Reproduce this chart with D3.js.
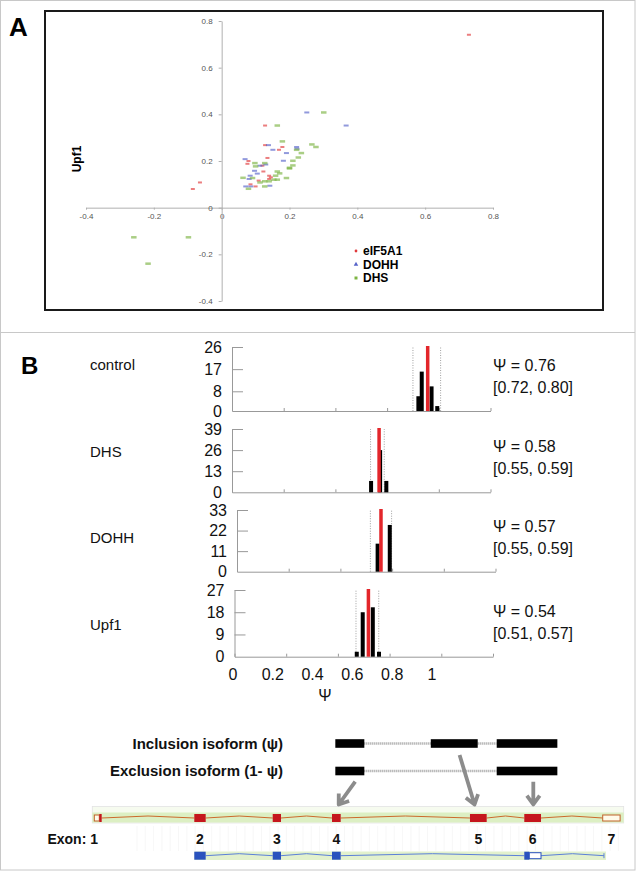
<!DOCTYPE html>
<html>
<head>
<meta charset="utf-8">
<script src="https://cdn.jsdelivr.net/npm/d3@7/dist/d3.min.js"></script>
<style>
  body { margin: 0; background: #fff; }
  svg { display: block; }
</style>
</head>
<body>
<div id="chart"></div>
<script>
// ---- Panel A: scatter (x, y) per knock-down ----
const eif5a1 = [
  [0.128, 0.352], [0.729, 0.741], [0.128, 0.268], [0.169, 0.248], [0.179, 0.26],
  [0.079, 0.2], [0.076, 0.188], [0.135, 0.213], [0.14, 0.137], [0.14, 0.123],
  [0.123, 0.155], [0.12, 0.18], [0.109, 0.116], [0.1, 0.091], [0.145, 0.13],
  [0.085, 0.1], [-0.085, 0.08], [-0.064, 0.108]
];
const dohh = [
  [0.251, 0.408], [0.367, 0.352], [0.138, 0.268], [0.151, 0.248], [0.221, 0.26],
  [0.191, 0.234], [0.069, 0.208], [0.182, 0.201], [0.113, 0.18], [0.097, 0.158],
  [0.105, 0.146], [0.084, 0.137], [0.081, 0.123], [0.071, 0.091], [0.086, 0.091],
  [0.142, 0.094], [0.13, 0.185], [0.222, 0.252]
];
const dhs = [
  [0.164, 0.352], [0.301, 0.408], [0.179, 0.284], [0.221, 0.248], [0.235, 0.234],
  [0.266, 0.271], [0.278, 0.26], [0.226, 0.215], [0.21, 0.201], [0.2, 0.171],
  [0.21, 0.181], [0.164, 0.155], [0.171, 0.147], [0.159, 0.137], [0.191, 0.127],
  [0.154, 0.12], [0.164, 0.12], [0.063, 0.128], [0.091, 0.127], [0.1, 0.177],
  [0.098, 0.191], [0.127, 0.191], [0.079, 0.081], [0.127, 0.091], [0.113, 0.108],
  [0.127, 0.113], [0.14, 0.113], [0.2, 0.168], [-0.259, -0.127], [-0.098, -0.127],
  [-0.217, -0.24]
];
const scatterTicks = [-0.4, -0.2, 0, 0.2, 0.4, 0.6, 0.8];
const legendNames = ['eIF5A1', 'DOHH', 'DHS'];

// ---- Panel B: psi histograms ----
const conditions = ['control', 'DHS', 'DOHH', 'Upf1'];
const countTicks = [[0, 8, 17, 26], [0, 13, 26, 39], [0, 11, 22, 33], [0, 9, 18, 27]];
const histBins = [
  [[0.721, 6], [0.734, 16], [0.772, 10], [0.794, 2]],
  [[0.538, 7], [0.573, 26], [0.597, 7]],
  [[0.544, 15], [0.591, 25]],
  [[0.473, 2], [0.496, 18], [0.535, 20], [0.559, 2]]
];
const psiMark = [0.757, 0.569, 0.557, 0.518];
const ciMark = [[0.70, 0.807], [0.536, 0.589], [0.516, 0.598], [0.47, 0.558]];
const psiText = ['0.76', '0.58', '0.57', '0.54'];
const ciText = ['[0.72, 0.80]', '[0.55, 0.59]', '[0.55, 0.59]', '[0.51, 0.57]'];
const psiTicks = [0, 0.2, 0.4, 0.6, 0.8, 1];

// ---- gene model (genomic units 0..1000) ----
const isoformNames = ['Inclusion isoform (\u03c8)', 'Exclusion isoform (1- \u03c8)'];
const isoforms = [
  [[457, 512], [638, 727], [763, 878]],
  [[457, 512], [763, 878]]
];
const redExons = [[0, 9.5, 'h'], [9.5, 14, 'f'], [189.6, 211.2, 'f'], [338.3, 354, 'f'],
  [450.7, 467.2, 'f'], [712.3, 744, 'f'], [815.3, 847, 'f'], [964, 997, 'h']];
const blueExons = [[189.6, 211.2, 'f'], [338.3, 354, 'f'], [450.7, 467.2, 'f'],
  [815.3, 824.8, 'f'], [824.8, 847, 'h']];
const blueEnd = 966.4;
const exonNames = ['1', '2', '3', '4', '5', '6', '7'];
const exonCenters = [7, 200.4, 346.2, 459, 728.2, 831.2, 980.5];
const arrows = [[494.7, 463.4, 1], [692.6, 721, 0], [832.4, 832.4, 1]];

const SANS = 'Liberation Sans, Arial, Helvetica, sans-serif';
const svg = d3.select('#chart').append('svg').attr('width', 636).attr('height', 871);

// frame
svg.append('rect').attr('x', 0.5).attr('y', 0.5).attr('width', 634.5).attr('height', 869.5)
  .attr('fill', 'none').attr('stroke', '#c8c8c8');
svg.append('line').attr('x1', 0).attr('x2', 635).attr('y1', 332.5).attr('y2', 332.5)
  .attr('stroke', '#c8c8c8');

// ================= Panel A =================
svg.append('rect').attr('x', 45).attr('y', 11).attr('width', 558).attr('height', 299)
  .attr('fill', 'none').attr('stroke', '#1a1a1a').attr('stroke-width', 2);
svg.append('text').attr('x', 9).attr('y', 36).text('A')
  .attr('font-family', SANS).attr('font-weight', 'bold').attr('font-size', '26px');

const sx = d3.scaleLinear().domain([-0.4, 0.8]).range([86, 493]);
const sy = d3.scaleLinear().domain([-0.4, 0.8]).range([301, 21]);
const fmt = d => d === 0 ? '0' : d.toFixed(1);

const ax = svg.append('g').attr('transform', `translate(0,${sy(0)})`)
  .call(d3.axisBottom(sx).tickValues(scatterTicks).tickSize(2).tickSizeOuter(0).tickPadding(4).tickFormat(fmt));
const ay = svg.append('g').attr('transform', `translate(${sx(0)},0)`)
  .call(d3.axisLeft(sy).tickValues(scatterTicks).tickSize(3).tickSizeOuter(0).tickPadding(6).tickFormat(fmt));
[ax, ay].forEach(a => {
  a.select('.domain').attr('stroke', '#b0b0b0');
  a.selectAll('line').attr('stroke', '#b0b0b0');
  a.selectAll('text').attr('fill', '#555').attr('font-size', '8px').attr('font-family', SANS);
});

svg.append('text')
  .attr('transform', 'translate(81,159) rotate(-90)')
  .attr('text-anchor', 'middle')
  .attr('font-family', SANS).attr('font-weight', 'bold').attr('font-size', '12px')
  .text('Upf1');

const series = [
  { data: eif5a1, color: '#e0393b', w: 4, h: 2 },
  { data: dohh, color: '#5663c9', w: 5, h: 2 },
  { data: dhs, color: '#7db443', w: 5.5, h: 2.5 }
];
series.forEach(s => {
  svg.append('g').selectAll('rect').data(s.data).enter().append('rect')
    .attr('x', d => sx(d[0]) - s.w / 2)
    .attr('y', d => sy(d[1]) - s.h / 2)
    .attr('width', s.w).attr('height', s.h)
    .attr('fill', s.color).attr('opacity', 0.65);
});

// legend
const legend = svg.append('g').attr('transform', 'translate(356,251)');
const legendSymbols = [d3.symbolCircle, d3.symbolTriangle, d3.symbolSquare];
legendNames.forEach((name, i) => {
  legend.append('path')
    .attr('transform', `translate(0,${i * 13.5})`)
    .attr('d', d3.symbol().type(legendSymbols[i]).size(i === 0 ? 6 : 9)())
    .attr('fill', series[i].color);
  legend.append('text').attr('x', 7).attr('y', i * 13.5).attr('dy', '0.35em')
    .attr('font-family', SANS).attr('font-weight', 'bold').attr('font-size', '12px')
    .text(name);
});

// ================= Panel B =================
svg.append('text').attr('x', 21).attr('y', 374).text('B')
  .attr('font-family', SANS).attr('font-weight', 'bold').attr('font-size', '24px');

const histLayout = [
  { x0: 232, top: 347, base: 411, labelY: 365 },
  { x0: 232, top: 429, base: 492.3, labelY: 452 },
  { x0: 237, top: 510, base: 571.7, labelY: 538 },
  { x0: 234.5, top: 590, base: 656.7, labelY: 625 }
];

conditions.forEach((cond, i) => {
  const L = histLayout[i];
  const x = d3.scaleLinear().domain([0, 1]).range([L.x0, L.x0 + 258.5]);
  const y = d3.scaleLinear().domain([0, d3.max(countTicks[i])]).range([L.base, L.top]);
  const g = svg.append('g');

  g.append('text').attr('x', 90).attr('y', L.labelY).attr('dy', '0.35em')
    .attr('font-family', SANS).attr('font-size', '15px').attr('fill', '#111').text(cond);

  const yAxis = g.append('g').attr('transform', `translate(${L.x0},0)`)
    .call(d3.axisLeft(y).tickValues(countTicks[i]).tickSize(-11).tickSizeOuter(0).tickPadding(10));
  const xAxis = g.append('g').attr('transform', `translate(0,${L.base})`)
    .call(d3.axisBottom(x).tickValues(psiTicks).tickSize(-3).tickSizeOuter(0).tickFormat(''));
  [yAxis, xAxis].forEach(a => {
    a.select('.domain').attr('stroke', '#999');
    a.selectAll('line').attr('stroke', '#999');
  });
  yAxis.selectAll('.tick').filter(d => d === 0).select('line').remove();
  yAxis.selectAll('text').attr('fill', '#111').attr('font-size', '16px').attr('font-family', SANS);

  // credible interval
  g.selectAll('.ci').data(ciMark[i]).enter().append('line')
    .attr('x1', d => x(d)).attr('x2', d => x(d))
    .attr('y1', L.base).attr('y2', L.top)
    .attr('stroke', '#888').attr('stroke-width', 0.8).attr('stroke-dasharray', '1,1.5');

  g.selectAll('.bar').data(histBins[i]).enter().append('rect')
    .attr('x', d => x(d[0]) - 2).attr('width', 4)
    .attr('y', d => y(d[1])).attr('height', d => L.base - y(d[1]))
    .attr('fill', '#000');

  g.append('line')
    .attr('x1', x(psiMark[i])).attr('x2', x(psiMark[i]))
    .attr('y1', L.base).attr('y2', L.top - 1)
    .attr('stroke', '#e3262b').attr('stroke-width', 3.5);

  g.append('text').attr('x', 493).attr('y', L.base - 40)
    .attr('font-family', SANS).attr('font-size', '16px').attr('fill', '#111')
    .text('\u03a8 = ' + psiText[i]);
  g.append('text').attr('x', 493).attr('y', L.base - 18)
    .attr('font-family', SANS).attr('font-size', '16px').attr('fill', '#111')
    .text(ciText[i]);
});

// shared psi tick labels under the last panel
const labelScale = d3.scaleLinear().domain([0, 1]).range([232.5, 431.5]);
const lab = svg.append('g').attr('transform', 'translate(0,669)')
  .call(d3.axisBottom(labelScale).tickValues(psiTicks).tickSize(0).tickPadding(0)
    .tickFormat(d => d === 0 || d === 1 ? String(d) : d.toFixed(1)));
lab.select('.domain').remove();
lab.selectAll('text').attr('fill', '#111').attr('font-size', '16px').attr('font-family', SANS);
svg.append('text').attr('x', 325).attr('y', 701).attr('text-anchor', 'middle')
  .attr('font-family', SANS).attr('font-size', '16px').attr('fill', '#111').text('\u03a8');

// ================= gene model =================
const gx = d3.scaleLinear().domain([0, 1000]).range([94.3, 621.7]);
const rowY = [743.5, 771];
const gm = svg.append('g');

isoformNames.forEach((name, r) => {
  gm.append('text').attr('x', 283).attr('y', rowY[r]).attr('dy', '0.36em')
    .attr('text-anchor', 'end').attr('font-family', SANS).attr('font-weight', 'bold')
    .attr('font-size', '15px').attr('fill', '#111').text(name);
  const ex = isoforms[r];
  gm.append('line')
    .attr('x1', gx(ex[0][1])).attr('x2', gx(ex[ex.length - 1][0]))
    .attr('y1', rowY[r]).attr('y2', rowY[r])
    .attr('stroke', '#9a9a9a').attr('stroke-width', 2.5).attr('stroke-dasharray', '1,1');
  gm.selectAll(null).data(ex).enter().append('rect')
    .attr('x', d => gx(d[0])).attr('width', d => gx(d[1]) - gx(d[0]))
    .attr('y', rowY[r] - 4.3).attr('height', 8.6).attr('fill', '#000');
});

// track backgrounds
const trackTop = 806.5, redY = 818, blueY = 855.7;
gm.append('rect').attr('x', gx(0) - 2).attr('y', trackTop).attr('width', gx(1000) - gx(0) + 4).attr('height', 16.5)
  .attr('fill', '#f6fbef').attr('stroke', '#e3e3e3').attr('stroke-width', 0.8);
gm.append('rect').attr('x', gx(0) - 2).attr('y', 812.5).attr('width', gx(1000) - gx(0) + 4).attr('height', 10)
  .attr('fill', '#dcefc3');
gm.append('rect').attr('x', gx(189.6)).attr('y', 851.5).attr('width', gx(blueEnd) - gx(189.6) + 2).attr('height', 8.5)
  .attr('fill', '#e2f1cd');
// faint grid between tracks
gm.selectAll('.grid').data(d3.range(137, 620, 8.3)).enter().append('line')
  .attr('x1', d => d).attr('x2', d => d).attr('y1', 826).attr('y2', 851)
  .attr('stroke', '#f5f5f5').attr('stroke-width', 0.8);

function hats(exons, end, yy, color) {
  const gaps = [];
  for (let k = 0; k < exons.length - 1; k++) {
    if (exons[k + 1][0] - exons[k][1] > 1) gaps.push([exons[k][1], exons[k + 1][0]]);
  }
  if (end != null) gaps.push([exons[exons.length - 1][1], end]);
  gm.selectAll(null).data(gaps).enter().append('path')
    .attr('d', d => `M${gx(d[0])},${yy}L${(gx(d[0]) + gx(d[1])) / 2},${yy - 2}L${gx(d[1])},${yy}`)
    .attr('fill', 'none').attr('stroke', color).attr('stroke-width', 1);
}
hats(redExons, null, redY, '#cc6a2c');
hats(blueExons, blueEnd, blueY, '#5b80d8');
gm.append('line').attr('x1', gx(blueEnd)).attr('x2', gx(blueEnd)).attr('y1', blueY - 2.5).attr('y2', blueY + 2.5)
  .attr('stroke', '#5b80d8');

gm.selectAll(null).data(redExons).enter().append('rect')
  .attr('x', d => gx(d[0])).attr('width', d => gx(d[1]) - gx(d[0]))
  .attr('y', d => d[2] === 'f' ? redY - 4 : redY - 3).attr('height', d => d[2] === 'f' ? 8 : 6)
  .attr('fill', d => d[2] === 'f' ? '#c5161d' : '#fffbe9')
  .attr('stroke', d => d[2] === 'f' ? 'none' : '#c0622a').attr('stroke-width', 1);
gm.selectAll(null).data(blueExons).enter().append('rect')
  .attr('x', d => gx(d[0])).attr('width', d => gx(d[1]) - gx(d[0]))
  .attr('y', d => d[2] === 'f' ? blueY - 4 : blueY - 3).attr('height', d => d[2] === 'f' ? 8 : 6)
  .attr('fill', d => d[2] === 'f' ? '#2a52be' : '#fff')
  .attr('stroke', d => d[2] === 'f' ? 'none' : '#2a52be').attr('stroke-width', 1);

// exon numbers
exonNames.forEach((n, k) => {
  gm.append('text').attr('x', gx(exonCenters[k])).attr('y', 843.5)
    .attr('text-anchor', k === 0 ? 'end' : 'middle')
    .attr('font-family', SANS).attr('font-weight', 'bold').attr('font-size', '14px').attr('fill', '#111')
    .text(k === 0 ? 'Exon: ' + n : n);
});

// arrows from isoform exons to gene model
const arrowStart = [755, 781.7], arrowEnd = 804.5;
arrows.forEach(([from, to, r]) => {
  const x1 = gx(from), y1 = arrowStart[r], x2 = gx(to), y2 = arrowEnd;
  const a = Math.atan2(y2 - y1, x2 - x1), len = 11, sp = 0.62;
  const p = `M${x1},${y1}L${x2},${y2}` +
    `M${x2 - len * Math.cos(a - sp)},${y2 - len * Math.sin(a - sp)}L${x2},${y2}` +
    `L${x2 - len * Math.cos(a + sp)},${y2 - len * Math.sin(a + sp)}`;
  gm.append('path').attr('d', p).attr('fill', 'none')
    .attr('stroke', '#8c8c8c').attr('stroke-width', 3.8).attr('stroke-linejoin', 'round');
});
</script>
</body>
</html>
